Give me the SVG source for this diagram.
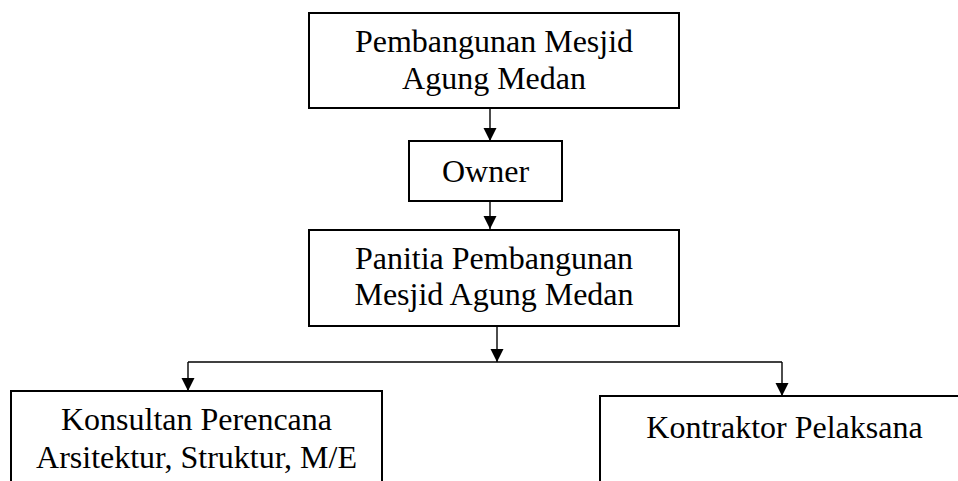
<svg xmlns="http://www.w3.org/2000/svg" width="958" height="481" viewBox="0 0 958 481">
<style>
.box{fill:#fff;stroke:#000;stroke-width:2}
.t{font-family:"Liberation Serif","Times New Roman",serif;font-size:32px;fill:#000;text-anchor:middle}
.c{fill:none;stroke:#000;stroke-width:1.4}
</style>
<defs>
<marker id="ah" markerUnits="userSpaceOnUse" markerWidth="14" markerHeight="14" refX="13" refY="6.5" orient="auto">
<path d="M0,0 L13,6.5 L0,13 z" fill="#000"/>
</marker>
</defs>
<rect width="958" height="481" fill="#fff"/>
<g id="connectors">
<line class="c" x1="490" y1="108" x2="490" y2="141" marker-end="url(#ah)"/>
<line class="c" x1="490" y1="201" x2="490" y2="229" marker-end="url(#ah)"/>
<line class="c" x1="497" y1="326" x2="497" y2="362" marker-end="url(#ah)"/>
<line class="c" x1="188" y1="362" x2="782" y2="362"/>
<line class="c" x1="188" y1="362" x2="188" y2="391" marker-end="url(#ah)"/>
<line class="c" x1="782" y1="362" x2="782" y2="396" marker-end="url(#ah)"/>
</g>
<g id="node-pembangunan">
<rect class="box" x="309" y="13" width="370" height="95"/>
<text class="t" x="494" y="52">Pembangunan Mesjid</text>
<text class="t" x="494" y="89">Agung Medan</text>
</g>
<g id="node-owner">
<rect class="box" x="409" y="141" width="153" height="60"/>
<text class="t" x="485.5" y="182">Owner</text>
</g>
<g id="node-panitia">
<rect class="box" x="309" y="230" width="370" height="96"/>
<text class="t" x="494" y="269">Panitia Pembangunan</text>
<text class="t" x="494" y="305">Mesjid Agung Medan</text>
</g>
<g id="node-konsultan">
<rect class="box" x="11" y="391" width="371" height="120"/>
<text class="t" x="196.5" y="430">Konsultan Perencana</text>
<text class="t" x="196.5" y="468">Arsitektur, Struktur, M/E</text>
</g>
<g id="node-kontraktor">
<rect class="box" x="600" y="396" width="400" height="120"/>
<text class="t" x="784.5" y="438">Kontraktor Pelaksana</text>
</g>
</svg>
